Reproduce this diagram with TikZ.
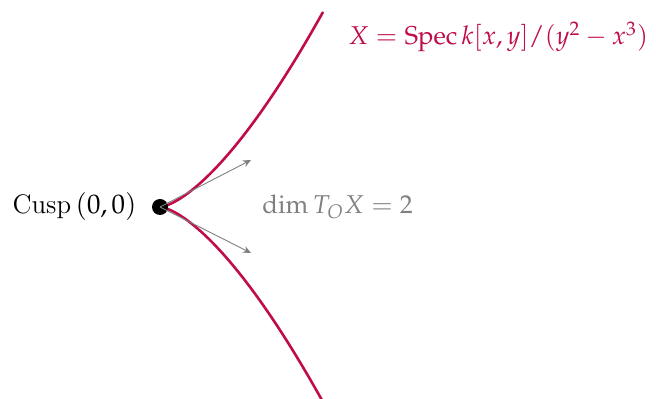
\documentclass[tikz,border=0pt]{standalone}
\usepackage{mathpazo}
\usepackage{amsmath}
\usetikzlibrary{arrows.meta}
\definecolor{crim}{RGB}{192,12,72}
\definecolor{tgray}{RGB}{128,128,128}
\tikzset{
  curveline/.style={draw=crim, line width=1.3pt, line cap=round},
  tanarrow/.style={draw=tgray, line width=0.45pt, -{Stealth[length=4pt,width=3.5pt]}},
  lbl/.style={inner sep=0pt, font=\fontsize{12.9}{15}\selectfont},
}
\begin{document}
\begin{tikzpicture}[x=0.5pt,y=-0.5pt]
\useasboundingbox (0,0) rectangle (656,399);
\draw[curveline, domain=-1:1, samples=120, smooth] plot ({160+163*\x*\x},{207-195*\x*\x*\x});
\node[circle, fill=black, inner sep=0pt, minimum size=8pt] (O) at (160,207) {};
\coordinate (t1) at (251,160);
\coordinate (t2) at (251,253);
\draw[tanarrow] (O.center) -- (t1);
\draw[tanarrow] (O.center) -- (t2);
\node[lbl, anchor=base east, font=\fontsize{13.4}{16}\selectfont] (cusp) at (137,214) {Cusp\,$(0,0)$};
\node[lbl, anchor=base west, text=tgray] (tan) at (262,214) {$\dim T_O X = 2$};
\node[lbl, anchor=base west, text=crim] (spec) at (348,45) {$X = \operatorname{Spec} k[x,y]/(y^2-x^3)$};
\end{tikzpicture}
\end{document}
